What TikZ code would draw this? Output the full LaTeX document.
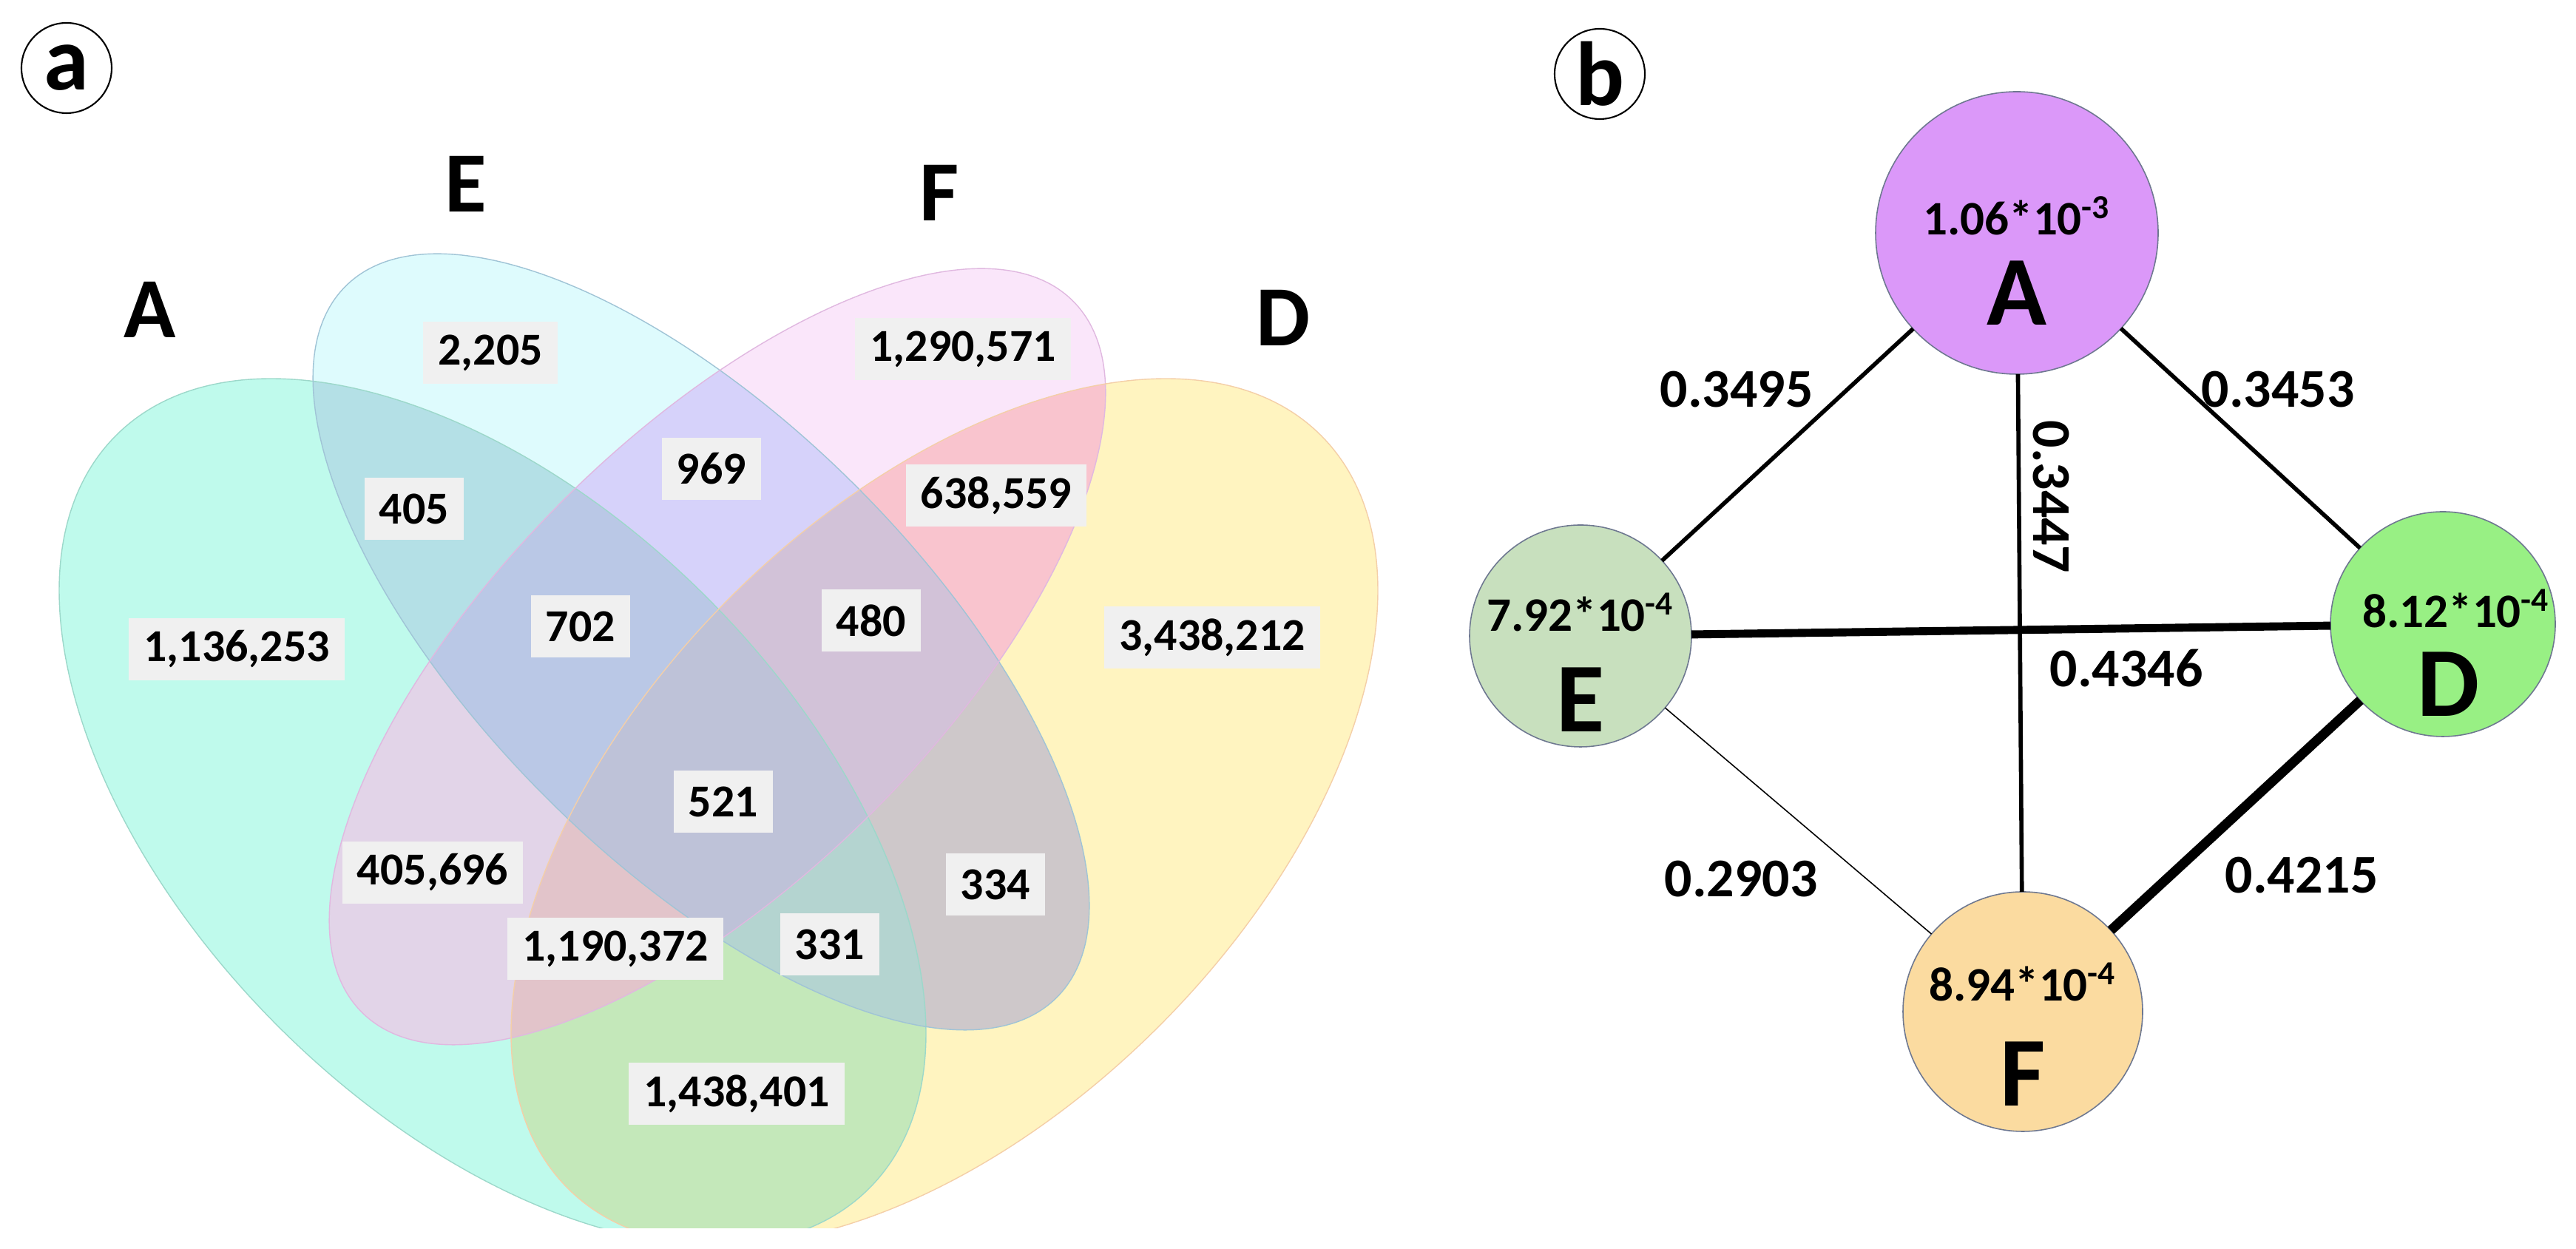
\documentclass[tikz,border=0pt]{standalone}
\usepackage{fontspec}
\setmainfont{Carlito}
\usetikzlibrary{calc}

% region colours of the Venn diagram
\definecolor{venA}{HTML}{BFFAEC}
\definecolor{venE}{HTML}{DEFBFD}
\definecolor{venF}{HTML}{FAE6FA}
\definecolor{venD}{HTML}{FFF4C0}
\definecolor{venAE}{HTML}{B4E0E6}
\definecolor{venAF}{HTML}{E2D4E8}
\definecolor{venAD}{HTML}{C4E8BA}
\definecolor{venEF}{HTML}{D6D2FA}
\definecolor{venED}{HTML}{CEC8CA}
\definecolor{venFD}{HTML}{F9C4CE}
\definecolor{venAEF}{HTML}{BAC8E6}
\definecolor{venAED}{HTML}{B4D4D0}
\definecolor{venAFD}{HTML}{E2C4CA}
\definecolor{venEFD}{HTML}{D2C2D8}
\definecolor{venAEFD}{HTML}{BEC2D8}
\definecolor{rimA}{HTML}{9CD8CA}
\definecolor{rimE}{HTML}{A0C4D6}
\definecolor{rimF}{HTML}{E0B8E0}
\definecolor{rimD}{HTML}{F4CFA8}
% node colours of the network
\definecolor{nodeA}{HTML}{DB98F9}
\definecolor{nodeE}{HTML}{C8E0BE}
\definecolor{nodeD}{HTML}{98F084}
\definecolor{nodeF}{HTML}{FBDBA0}
\definecolor{nodeline}{HTML}{6E7890}

\newcommand{\ellA}{[rotate around={-45:(6.66,5.91)}] (6.66,5.91) ellipse (7.2 and 4.1)}
\newcommand{\ellE}{[rotate around={-45:(9.48,8.21)}] (9.48,8.21) ellipse (6.8 and 2.97)}
\newcommand{\ellF}{[rotate around={45:(9.70,8.01)}] (9.70,8.01) ellipse (6.8 and 2.97)}
\newcommand{\ellD}{[rotate around={45:(12.77,5.91)}] (12.77,5.91) ellipse (7.2 and 4.1)}

\tikzset{
  numbox/.style={fill=black!6, inner xsep=0.2cm, inner ysep=0pt, minimum height=0.84cm,
    font={\fontsize{17.6}{20}\selectfont\bfseries}},
  setlab/.style={font={\fontsize{33}{36}\selectfont\bfseries}},
  panellab/.style={circle, draw, line width=0.6pt, minimum size=1.22cm, inner sep=0pt,
    font={\fontsize{35}{35}\selectfont\bfseries}},
  sample/.style={circle, draw=nodeline, line width=0.45pt, minimum size=#1, inner sep=0pt, outer sep=0pt},
  valtext/.style={font={\fontsize{18.5}{20}\selectfont\bfseries}, inner sep=0pt},
  lettext/.style={font={\fontsize{38}{40}\selectfont\bfseries}, inner sep=0pt},
  edgelab/.style={font={\fontsize{21}{24}\selectfont\bfseries}, inner sep=0pt},
  link/.style={line width=#1, black}
}

\begin{document}
\begin{tikzpicture}
\useasboundingbox (0,0) rectangle (34.83,16.89);

% panel a
\node[panellab] (pa) at (0.90,15.97) {a};
\begin{scope}
\clip (0,0.28) rectangle (20,16.89);
\fill[venA] \ellA;
\fill[venE] \ellE;
\fill[venF] \ellF;
\fill[venD] \ellD;
\begin{scope}\clip \ellA; \fill[venAE] \ellE; \end{scope}
\begin{scope}\clip \ellA; \fill[venAF] \ellF; \end{scope}
\begin{scope}\clip \ellA; \fill[venAD] \ellD; \end{scope}
\begin{scope}\clip \ellE; \fill[venEF] \ellF; \end{scope}
\begin{scope}\clip \ellE; \fill[venED] \ellD; \end{scope}
\begin{scope}\clip \ellF; \fill[venFD] \ellD; \end{scope}
\begin{scope}\clip \ellA; \clip \ellE; \fill[venAEF] \ellF; \end{scope}
\begin{scope}\clip \ellA; \clip \ellE; \fill[venAED] \ellD; \end{scope}
\begin{scope}\clip \ellA; \clip \ellF; \fill[venAFD] \ellD; \end{scope}
\begin{scope}\clip \ellE; \clip \ellF; \fill[venEFD] \ellD; \end{scope}
\begin{scope}\clip \ellA; \clip \ellE; \clip \ellF; \fill[venAEFD] \ellD; \end{scope}
\draw[rimA, line width=0.4pt] \ellA;
\draw[rimE, line width=0.4pt] \ellE;
\draw[rimF, line width=0.4pt] \ellF;
\draw[rimD, line width=0.4pt] \ellD;
\end{scope}

\node[setlab] (sA) at (2.03,12.70) {A};
\node[setlab] (sE) at (6.30,14.40) {E};
\node[setlab] (sF) at (12.70,14.28) {F};
\node[setlab] (sD) at (17.35,12.59) {D};

\foreach \x/\y/\n/\txt in {3.20/8.11/cA/{1,136,253}, 6.63/12.12/cE/{2,205},
    13.02/12.17/cF/{1,290,571}, 16.39/8.27/cD/{3,438,212},
    5.60/10.01/cAE/{405}, 9.62/10.55/cEF/{969}, 13.47/10.19/cFD/{638,559},
    7.85/8.42/cAEF/{702}, 11.78/8.50/cEFD/{480}, 9.78/6.05/cAEFD/{521},
    5.85/5.09/cAF/{405,696}, 13.46/4.93/cED/{334}, 8.32/4.06/cAFD/{1,190,372},
    11.22/4.12/cAED/{331}, 9.96/2.10/cAD/{1,438,401}}
  \node[numbox] (\n) at (\x,\y) {\txt};

% panel b
\node[panellab] (pb) at (21.63,15.89) {b};

\node[sample=3.82cm, fill=nodeA] (nA) at (27.27,13.74) {};
\node[sample=3.00cm, fill=nodeE] (nE) at (21.37,8.29) {};
\node[sample=3.04cm, fill=nodeD] (nD) at (33.03,8.45) {};
\node[sample=3.24cm, fill=nodeF] (nF) at (27.35,3.21) {};

\node[valtext] (vA) at ([yshift=0.23cm]nA.center) {1.06*10\textsuperscript{-3}};
\node[lettext] (lA) at ([yshift=-0.81cm]nA.center) {A};
\node[valtext] (vE) at ([yshift=0.32cm]nE.center) {7.92*10\textsuperscript{-4}};
\node[lettext] (lE) at ([yshift=-0.86cm]nE.center) {E};
\node[valtext] (vD) at ([xshift=0.18cm,yshift=0.21cm]nD.center) {8.12*10\textsuperscript{-4}};
\node[lettext] (lD) at ([xshift=0.08cm,yshift=-0.81cm]nD.center) {D};
\node[valtext] (vF) at ([yshift=0.40cm]nF.center) {8.94*10\textsuperscript{-4}};
\node[lettext] (lF) at ([yshift=-0.84cm]nF.center) {F};

\draw[link=1.6pt] (nA) -- (nE);
\draw[link=1.6pt] (nA) -- (nD);
\draw[link=1.6pt] (nA) -- (nF);
\draw[link=3.1pt] (nE) -- (nD);
\draw[link=0.45pt] (nE) -- (nF);
\draw[link=3.7pt] (nD) -- (nF);

\node[edgelab] (wAE) at (23.48,11.62) {0.3495};
\node[edgelab] (wAD) at (30.80,11.62) {0.3453};
\node[edgelab, rotate=-90] (wAF) at (27.73,10.17) {0.3447};
\node[edgelab] (wED) at (28.75,7.85) {0.4346};
\node[edgelab] (wEF) at (23.54,5.00) {0.2903};
\node[edgelab] (wDF) at (31.12,5.05) {0.4215};
\end{tikzpicture}
\end{document}
